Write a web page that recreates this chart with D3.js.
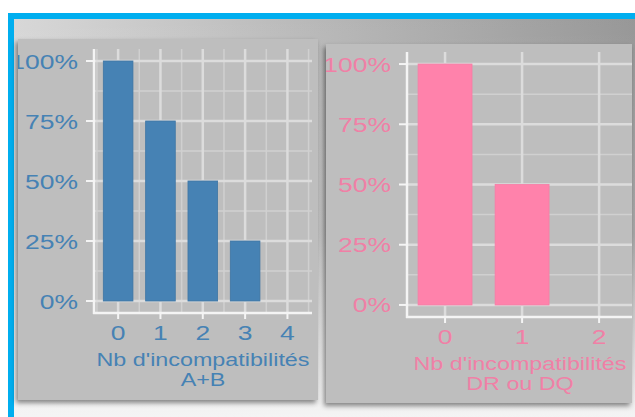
<!DOCTYPE html>
<html>
<head>
<meta charset="utf-8">
<script src="https://cdn.jsdelivr.net/npm/d3@7"></script>
<style>
  html, body { margin: 0; padding: 0; background: #fff; }
  svg { display: block; }
  text { font-family: "Liberation Sans", Arial, sans-serif; }
</style>
</head>
<body>
<div id="chart"></div>
<script>
// chart values
const catsAB = [0, 1, 2, 3, 4];
const valsAB = [100, 75, 50, 25, 0];
const catsDR = [0, 1, 2];
const valsDR = [100, 50, 0];
const yTicks = [0, 25, 50, 75, 100];
const titleAB = ["Nb d'incompatibilités", "A+B"];
const titleDR = ["Nb d'incompatibilités", "DR ou DQ"];

const W = 635, H = 417;
const STRETCH = 1.26; // the screenshot text is stretched sideways

const svg = d3.select("#chart").append("svg")
  .attr("width", W)
  .attr("height", H);

const defs = svg.append("defs");

const gx = defs.append("linearGradient").attr("id", "bgx")
  .attr("x1", 0).attr("x2", 1).attr("y1", 0).attr("y2", 0);
gx.append("stop").attr("offset", 0).attr("stop-color", "#d8d8d8");
gx.append("stop").attr("offset", 1).attr("stop-color", "#979797");

const gy = defs.append("linearGradient").attr("id", "bgy")
  .attr("x1", 0).attr("x2", 0).attr("y1", 0).attr("y2", 1);
gy.append("stop").attr("offset", 0).attr("stop-color", "#fff").attr("stop-opacity", 0);
gy.append("stop").attr("offset", 0.55).attr("stop-color", "#fff").attr("stop-opacity", 0.15);
gy.append("stop").attr("offset", 1).attr("stop-color", "#f4f4f4").attr("stop-opacity", 1);

const shadow = defs.append("filter").attr("id", "shadow")
  .attr("x", "-10%").attr("y", "-10%").attr("width", "120%").attr("height", "120%");
shadow.append("feDropShadow")
  .attr("dx", -2).attr("dy", 3).attr("stdDeviation", 2.5)
  .attr("flood-color", "#000").attr("flood-opacity", 0.45);

// frame background
svg.append("rect").attr("x", 8).attr("y", 13).attr("width", W - 8).attr("height", H - 13)
  .attr("fill", "url(#bgx)");
svg.append("rect").attr("x", 8).attr("y", 13).attr("width", W - 8).attr("height", H - 13)
  .attr("fill", "url(#bgy)");
// blue frame
svg.append("rect").attr("x", 8).attr("y", 13).attr("width", W - 8).attr("height", 6).attr("fill", "#00aeef");
svg.append("rect").attr("x", 8).attr("y", 13).attr("width", 6).attr("height", H - 13).attr("fill", "#00aeef");

function stretchedText(g, x, y, str, size, color, anchor) {
  return g.append("text")
    .attr("transform", `translate(${x},${y}) scale(${STRETCH},1)`)
    .attr("text-anchor", anchor)
    .attr("font-size", size)
    .attr("fill", color)
    .text(str);
}

class BarPanel {
  constructor(_config) {
    this.config = _config;
    this.initVis();
  }

  initVis() {
    const vis = this;
    const c = vis.config;
    const id = c.id;

    defs.append("clipPath").attr("id", "clip-" + id)
      .append("rect").attr("x", c.panel.x).attr("y", c.panel.y)
      .attr("width", c.panel.w).attr("height", c.panel.h);

    svg.append("rect")
      .attr("x", c.panel.x).attr("y", c.panel.y)
      .attr("width", c.panel.w).attr("height", c.panel.h)
      .attr("fill", "#bebebe")
      .attr("filter", "url(#shadow)");

    vis.g = svg.append("g").attr("clip-path", `url(#clip-${id})`);

    vis.xScale = d3.scaleLinear().domain(c.xDomain).range([c.plot.x0, c.plot.x1]);
    vis.yScale = d3.scaleLinear().domain([-5, 105]).range([c.plot.y1, c.plot.y0]);

    vis.renderVis();
  }

  renderVis() {
    const vis = this;
    const c = vis.config;
    const g = vis.g;
    const [x0, x1] = vis.xScale.range();
    const [y1, y0] = vis.yScale.range();

    // minor grid
    const yMinor = [12.5, 37.5, 62.5, 87.5];
    const xMinor = d3.range(Math.ceil(c.xDomain[0] * 2) / 2, c.xDomain[1], 1)
      .filter(v => Math.abs(v % 1) === 0.5);
    g.selectAll(".ygm").data(yMinor).join("line")
      .attr("x1", x0).attr("x2", x1)
      .attr("y1", d => vis.yScale(d)).attr("y2", d => vis.yScale(d))
      .attr("stroke", "#d0d0d0").attr("stroke-width", 1.5);
    g.selectAll(".xgm").data(xMinor).join("line")
      .attr("y1", y0).attr("y2", y1)
      .attr("x1", d => vis.xScale(d)).attr("x2", d => vis.xScale(d))
      .attr("stroke", "#d0d0d0").attr("stroke-width", 1.5);

    // major grid
    g.selectAll(".ygM").data(yTicks).join("line")
      .attr("x1", x0).attr("x2", x1)
      .attr("y1", d => vis.yScale(d)).attr("y2", d => vis.yScale(d))
      .attr("stroke", "#dcdcdc").attr("stroke-width", 2.5);
    g.selectAll(".xgM").data(c.cats).join("line")
      .attr("y1", y0).attr("y2", y1)
      .attr("x1", d => vis.xScale(d)).attr("x2", d => vis.xScale(d))
      .attr("stroke", "#dcdcdc").attr("stroke-width", 2.5);

    // bars
    const bw = vis.xScale(0.35) - vis.xScale(-0.35);
    g.selectAll(".bar").data(c.cats.map((k, i) => ({ k, v: c.vals[i] })).filter(d => d.v > 0))
      .join("rect")
      .attr("class", "bar")
      .attr("x", d => vis.xScale(d.k) - bw / 2)
      .attr("width", bw)
      .attr("y", d => vis.yScale(d.v))
      .attr("height", d => vis.yScale(0) - vis.yScale(d.v))
      .attr("fill", c.barColor)
      .attr("stroke", c.barStroke)
      .attr("stroke-width", 0.8);

    // axis lines and ticks
    g.append("line").attr("x1", x0).attr("x2", x0).attr("y1", y0).attr("y2", y1 + 1)
      .attr("stroke", "#f4f4f4").attr("stroke-width", 2.5);
    g.append("line").attr("x1", x0 - 1).attr("x2", x1).attr("y1", y1).attr("y2", y1)
      .attr("stroke", "#f4f4f4").attr("stroke-width", 2.5);
    g.selectAll(".yt").data(yTicks).join("line")
      .attr("x1", x0 - 8).attr("x2", x0)
      .attr("y1", d => vis.yScale(d)).attr("y2", d => vis.yScale(d))
      .attr("stroke", "#f4f4f4").attr("stroke-width", 2);
    g.selectAll(".xt").data(c.cats).join("line")
      .attr("y1", y1).attr("y2", y1 + 6)
      .attr("x1", d => vis.xScale(d)).attr("x2", d => vis.xScale(d))
      .attr("stroke", "#f4f4f4").attr("stroke-width", 2);

    // tick labels
    yTicks.forEach(t => {
      stretchedText(g, x0 - 16, vis.yScale(t) + 7.5, t + "%", 21, c.textColor, "end");
    });
    c.cats.forEach(k => {
      stretchedText(g, vis.xScale(k), y1 + 27, String(k), 21, c.textColor, "middle");
    });

    // axis title
    const cx = (x0 + x1) / 2;
    stretchedText(g, cx, y1 + 53, c.title[0], 18.5, c.textColor, "middle");
    stretchedText(g, cx, y1 + 73, c.title[1], 18.5, c.textColor, "middle");
  }
}

new BarPanel({
  id: "ab",
  panel: { x: 18, y: 39, w: 300, h: 361 },
  plot: { x0: 94, x1: 312, y0: 49, y1: 313 },
  xDomain: [-0.57, 4.58],
  cats: catsAB,
  vals: valsAB,
  barColor: "#4682b4",
  barStroke: "#3f76a4",
  textColor: "#4682b4",
  title: titleAB
});

new BarPanel({
  id: "dr",
  panel: { x: 326, y: 44, w: 306, h: 359 },
  plot: { x0: 407, x1: 633, y0: 52, y1: 317 },
  xDomain: [-0.494, 2.44],
  cats: catsDR,
  vals: valsDR,
  barColor: "#ff82ab",
  barStroke: "#f77ca5",
  textColor: "#f080a6",
  title: titleDR
});
</script>
</body>
</html>
